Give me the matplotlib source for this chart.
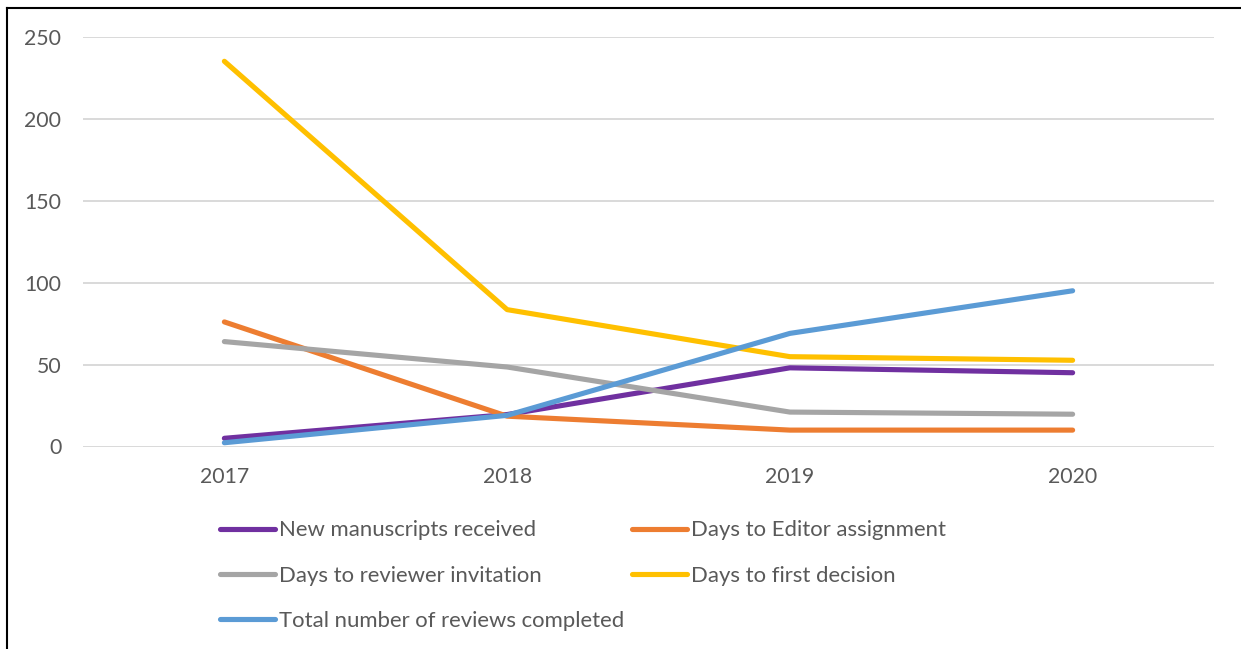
import matplotlib
matplotlib.use("Agg")
import matplotlib.pyplot as plt
from matplotlib.lines import Line2D

years = ["2017", "2018", "2019", "2020"]
new_manuscripts = [5, 19.5, 48, 45]
days_editor = [76, 18.5, 10, 10]
days_reviewer = [64, 48.5, 21, 19.7]
days_first_decision = [235, 83.5, 54.8, 52.6]
total_reviews = [2.3, 19, 69, 95]

series = [
    ("New manuscripts received", new_manuscripts, "#7030A0"),
    ("Days to Editor assignment", days_editor, "#ED7D31"),
    ("Days to reviewer invitation", days_reviewer, "#A5A5A5"),
    ("Days to first decision", days_first_decision, "#FFC000"),
    ("Total number of reviews completed", total_reviews, "#5B9BD5"),
]

plt.rcParams['font.family'] = ['Lato', 'DejaVu Sans']
W, H = 1241, 649
fig = plt.figure(figsize=(W / 100, H / 100), dpi=100)
fig.patch.set_facecolor("white")

left, right = 83 / W, 1214 / W
bottom, top = (H - 446.5) / H, (H - 36.7) / H
ax = fig.add_axes([left, bottom, right - left, top - bottom])

x = list(range(len(years)))
handles = {}
for name, vals, col in series:
    ln, = ax.plot(x, vals, color=col, lw=3.7, solid_capstyle="round",
                  solid_joinstyle="round", label=name)
    handles[name] = ln

ax.set_xlim(-0.5, len(years) - 0.5)
ax.set_ylim(0, 250)
ax.set_yticks([0, 50, 100, 150, 200, 250])
ax.set_xticks(x)
ax.set_xticklabels(years)
ax.grid(axis="y", color="#D9D9D9", lw=1.4)
ax.set_axisbelow(True)
for s in ax.spines.values():
    s.set_visible(False)
ax.tick_params(axis="both", length=0, labelsize=15.3, labelcolor="#595959")
ax.tick_params(axis="y", pad=15.5)
ax.tick_params(axis="x", pad=14.5)

order = ["New manuscripts received", "Days to reviewer invitation",
         "Total number of reviews completed", "Days to Editor assignment",
         "Days to first decision"]
fs = 15.9
leg = fig.legend([handles[n] for n in order], order, ncol=2,
                 loc="center left", bbox_to_anchor=(220 / W, (H - 575.5) / H),
                 frameon=False, fontsize=fs, handlelength=55 / (fs / 0.72),
                 handletextpad=0.18, columnspacing=0.36, labelspacing=1.14,
                 borderpad=0, borderaxespad=0)
for t in leg.get_texts():
    t.set_color("#595959")
for l in leg.get_lines():
    l.set_linewidth(3.7)
    l.set_solid_capstyle("round")

# frame border (top and left)
fig.add_artist(Line2D([7 / W, 1], [1 - 7.5 / H, 1 - 7.5 / H],
                      transform=fig.transFigure, color="black", lw=1.5))
fig.add_artist(Line2D([7 / W, 7 / W], [0, 1 - 7.5 / H],
                      transform=fig.transFigure, color="black", lw=1.5))

fig.savefig("out.png", dpi=100, facecolor="white")
